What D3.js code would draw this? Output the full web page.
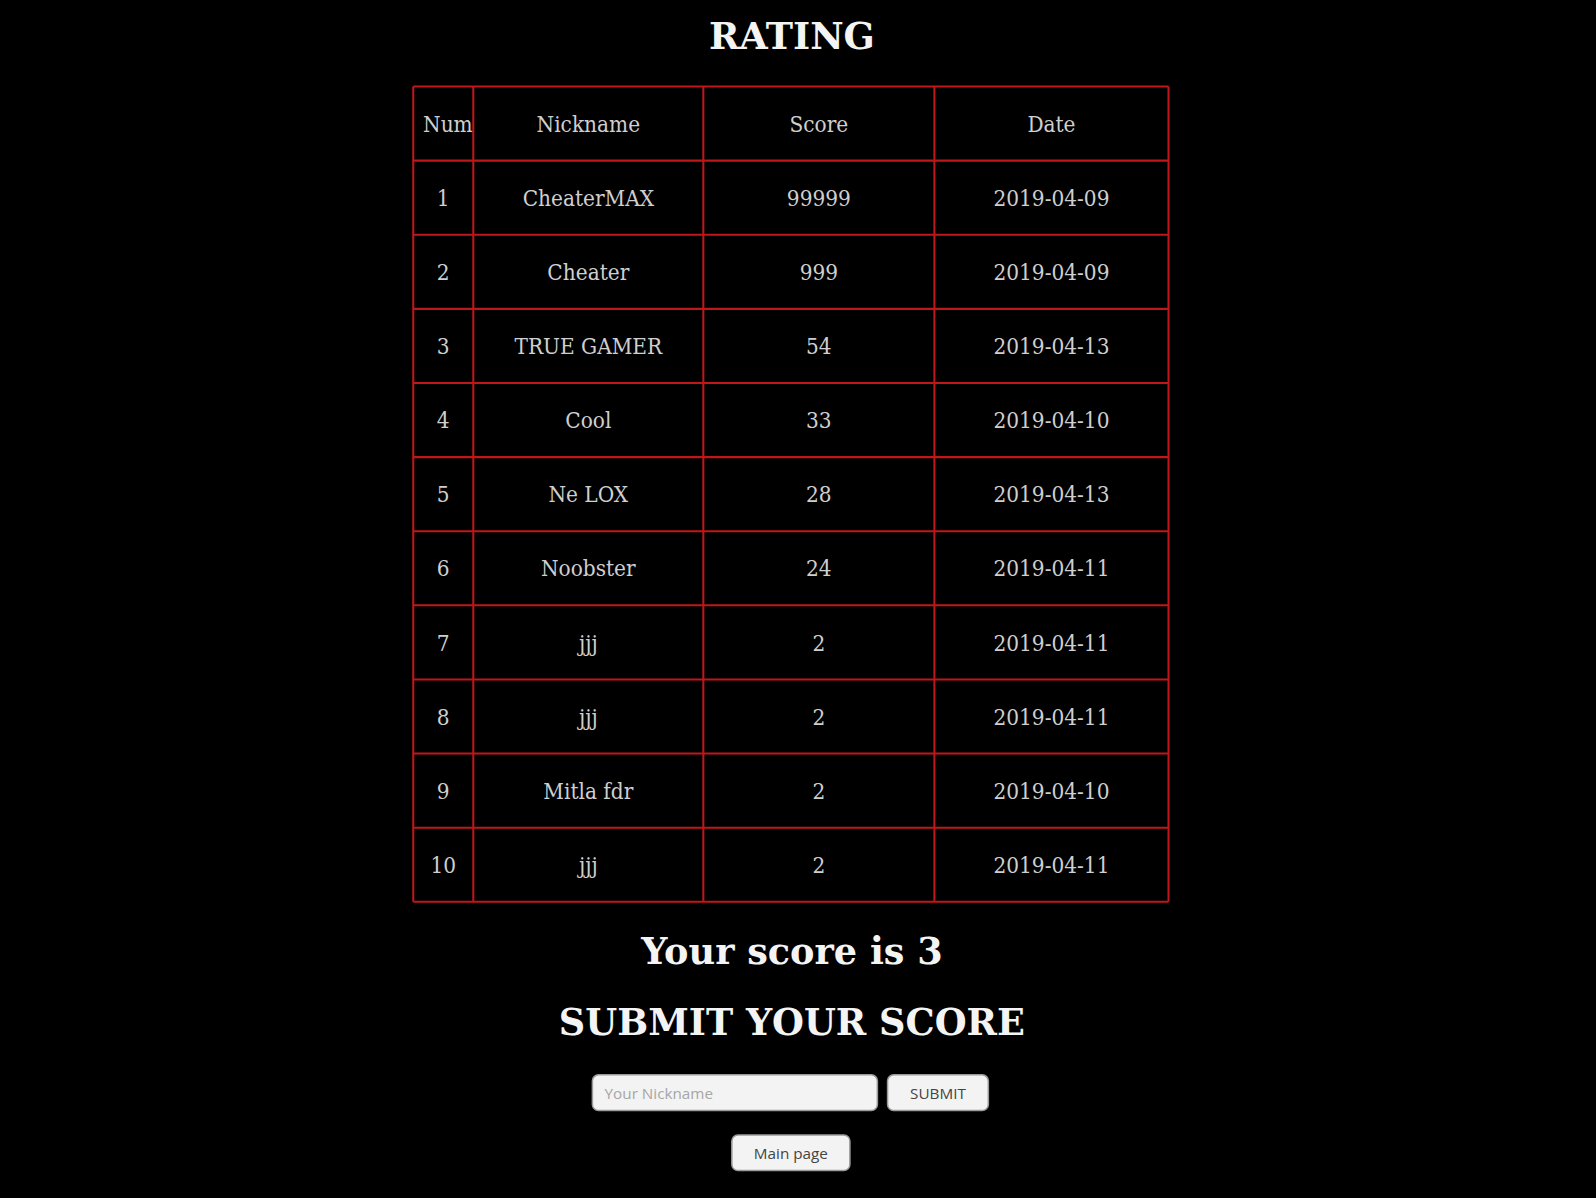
<!DOCTYPE html>
<html>
<head>
<meta charset="utf-8">
<script src="https://cdn.jsdelivr.net/npm/d3@7"></script>
<style>
  html, body { margin: 0; padding: 0; background: #000; }
</style>
</head>
<body>
<svg id="chart" width="1596" height="1198"></svg>
<script>
'use strict';

var columns = ['Num', 'Nickname', 'Score', 'Date'];
var nums = [1, 2, 3, 4, 5, 6, 7, 8, 9, 10];
var nicknames = ['CheaterMAX', 'Cheater', 'TRUE GAMER', 'Cool', 'Ne LOX', 'Noobster', 'jjj', 'jjj', 'Mitla fdr', 'jjj'];
var scores = [99999, 999, 54, 33, 28, 24, 2, 2, 2, 2];
var dates = ['2019-04-09', '2019-04-09', '2019-04-13', '2019-04-10', '2019-04-13', '2019-04-11', '2019-04-11', '2019-04-11', '2019-04-10', '2019-04-11'];
var yourScore = 3;

var k = 1596 / 1568;
var svg = d3.select('#chart');
var g = svg.append('g').attr('transform', 'scale(' + k + ')');
var cx = 778;
var border = '#c0171b';
var cellColor = '#cfcfcf';

// column edges and row scale
var colEdges = [406, 465, 691, 918, 1148];
var y = d3.scaleLinear().domain([0, nums.length + 1]).range([85, 886]);

g.append('text').attr('x', cx).attr('y', 48).attr('text-anchor', 'middle')
  .attr('font-family', 'DejaVu Serif').attr('font-weight', 'bold').attr('font-size', 36)
  .attr('fill', '#f4f4f4').text('RATING');

// grid
g.selectAll('line.h').data(d3.range(nums.length + 2)).enter().append('line')
  .attr('x1', colEdges[0]).attr('x2', colEdges[colEdges.length - 1])
  .attr('y1', function (d) { return y(d); }).attr('y2', function (d) { return y(d); })
  .attr('stroke', border).attr('stroke-width', 2);
g.selectAll('line.v').data(colEdges).enter().append('line')
  .attr('x1', function (d) { return d; }).attr('x2', function (d) { return d; })
  .attr('y1', y(0)).attr('y2', y(nums.length + 1))
  .attr('stroke', border).attr('stroke-width', 2);

var rows = [columns].concat(nums.map(function (n, i) {
  return [n, nicknames[i], scores[i], dates[i]];
}));
rows.forEach(function (row, r) {
  row.forEach(function (val, c) {
    var x = (colEdges[c] + colEdges[c + 1]) / 2;
    if (r === 0 && c === 0) x = colEdges[0] + 34;
    g.append('text').attr('x', x).attr('y', (y(r) + y(r + 1)) / 2 + 8)
      .attr('text-anchor', 'middle').attr('font-family', 'DejaVu Serif Condensed, DejaVu Serif')
      .attr('font-size', 22).attr('fill', cellColor).text(val);
  });
});

g.append('text').attr('x', cx).attr('y', 947).attr('text-anchor', 'middle')
  .attr('font-family', 'DejaVu Serif').attr('font-weight', 'bold').attr('font-size', 36)
  .attr('fill', '#f4f4f4').text('Your score is ' + yourScore);
g.append('text').attr('x', cx).attr('y', 1017).attr('text-anchor', 'middle')
  .attr('font-family', 'DejaVu Serif').attr('font-weight', 'bold').attr('font-size', 36)
  .attr('fill', '#f4f4f4').text('SUBMIT YOUR SCORE');

function box(x, yy, w, h, label, color, anchor) {
  g.append('rect').attr('x', x).attr('y', yy).attr('width', w).attr('height', h)
    .attr('rx', 6).attr('fill', '#f3f3f3').attr('stroke', '#9a9a9a').attr('stroke-width', 1.5);
  g.append('text').attr('x', anchor === 'start' ? x + 12 : x + w / 2).attr('y', yy + h / 2 + 6)
    .attr('text-anchor', anchor || 'middle').attr('font-family', 'Open Sans').attr('font-size', 15)
    .attr('fill', color).text(label);
}
box(582, 1056, 280, 35, 'Your Nickname', '#a6a6a6', 'start');
box(872, 1056, 99, 35, 'SUBMIT', '#444');
box(719, 1115, 116, 35, 'Main page', '#444');
</script>
</body>
</html>
